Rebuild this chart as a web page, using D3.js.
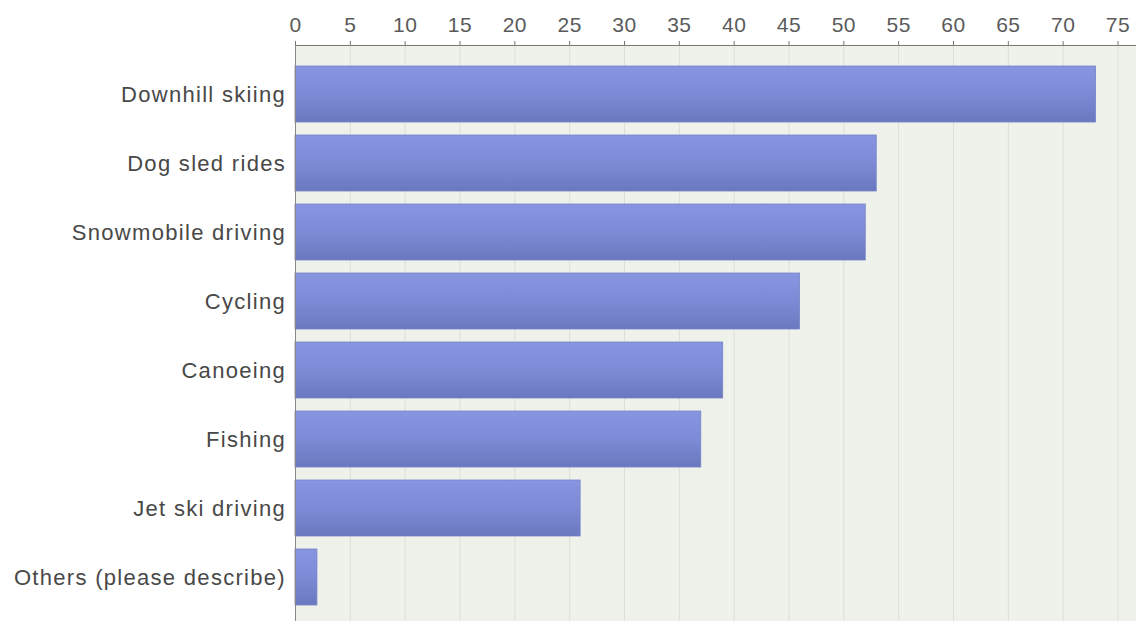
<!DOCTYPE html>
<html>
<head>
<meta charset="utf-8">
<script src="https://cdn.jsdelivr.net/npm/d3@7"></script>
<style>
  body { margin: 0; background: #fff; }
  svg { display: block; }
</style>
</head>
<body>
<svg id="chart" width="1136" height="621"></svg>
<script>
// activities and how many people picked them
const categories = ["Downhill skiing", "Dog sled rides", "Snowmobile driving", "Cycling",
                    "Canoeing", "Fishing", "Jet ski driving", "Others (please describe)"];
const counts = [73, 53, 52, 46, 39, 37, 26, 2];
const tickValues = [0, 5, 10, 15, 20, 25, 30, 35, 40, 45, 50, 55, 60, 65, 70, 75];

const svg = d3.select("#chart");
const W = 1136, H = 621;
const plotLeft = 295, plotTop = 45;

const x = d3.scaleLinear().domain([0, 75]).range([plotLeft, 1117.5]);
const y = d3.scaleBand().domain(categories).range([59.5, 611.5])
    .paddingInner(13 / 69).paddingOuter(6.5 / 69);

// gradient for bars
const defs = svg.append("defs");
const grad = defs.append("linearGradient").attr("id", "barGrad")
    .attr("x1", 0).attr("y1", 0).attr("x2", 0).attr("y2", 1);
grad.append("stop").attr("offset", "0%").attr("stop-color", "#8896e2");
grad.append("stop").attr("offset", "50%").attr("stop-color", "#7d8bd6");
grad.append("stop").attr("offset", "100%").attr("stop-color", "#6a78bf");

// plot background
svg.append("rect")
    .attr("x", plotLeft).attr("y", plotTop)
    .attr("width", W - plotLeft).attr("height", H - plotTop)
    .attr("fill", "#eff1eb");

// grid
svg.append("g").selectAll("line")
    .data(tickValues.slice(1))
    .join("line")
    .attr("x1", d => x(d) + 0.5).attr("x2", d => x(d) + 0.5)
    .attr("y1", plotTop).attr("y2", H)
    .attr("stroke", "#dcdfd7").attr("stroke-width", 1);

// bars
svg.append("g").selectAll("rect")
    .data(categories)
    .join("rect")
    .attr("x", x(0))
    .attr("y", d => y(d))
    .attr("width", (d, i) => x(counts[i]) - x(0))
    .attr("height", y.bandwidth())
    .attr("fill", "url(#barGrad)")
    .attr("stroke", "#7583c8")
    .attr("stroke-width", 0.8);

// top axis
const xAxis = svg.append("g")
    .attr("transform", `translate(0,${plotTop})`)
    .call(d3.axisTop(x).tickValues(tickValues).tickSizeInner(4).tickSizeOuter(0).tickPadding(9));
xAxis.select(".domain").remove();
xAxis.append("line")
    .attr("x1", plotLeft).attr("x2", W).attr("y1", 0.5).attr("y2", 0.5)
    .attr("stroke", "#777");
xAxis.selectAll(".tick line").attr("stroke", "#777");
xAxis.selectAll(".tick text")
    .attr("fill", "#5a5a5a")
    .style("font-family", "'Liberation Sans', Arial, sans-serif")
    .style("font-size", "21px")
    .style("letter-spacing", "0.5px");

// left axis line
svg.append("line")
    .attr("x1", plotLeft + 0.5).attr("x2", plotLeft + 0.5)
    .attr("y1", plotTop).attr("y2", H)
    .attr("stroke", "#888");

// category labels
svg.append("g").selectAll("text")
    .data(categories)
    .join("text")
    .attr("x", plotLeft - 9)
    .attr("y", d => y(d) + y.bandwidth() / 2)
    .attr("dy", "0.36em")
    .attr("text-anchor", "end")
    .attr("fill", "#484848")
    .style("font-family", "'Liberation Sans', Arial, sans-serif")
    .style("font-size", "22px")
    .style("letter-spacing", "1.3px")
    .text(d => d);
</script>
</body>
</html>
